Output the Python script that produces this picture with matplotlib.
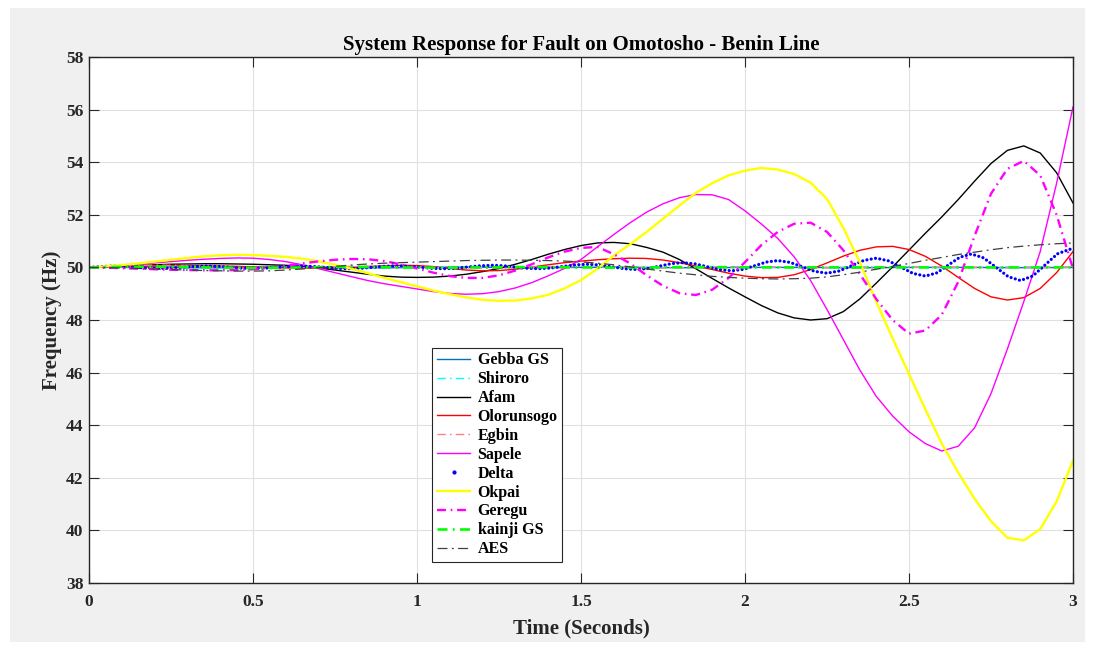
import numpy as np
import matplotlib
matplotlib.use("Agg")
import matplotlib.pyplot as plt
from matplotlib.lines import Line2D
from matplotlib.patches import Rectangle

# ---------------- data ----------------
t = np.linspace(0, 3, 61)          # 0.05 s samples
t10 = np.linspace(0, 3, 31)        # 0.1 s samples

gebba = [50.00, 50.03, 50.02, 49.99, 49.98, 50.00, 50.02, 50.01, 49.99, 49.98, 50.00,
         50.01, 50.01, 49.99, 49.99, 50.00, 50.01, 50.00, 49.99, 49.99, 50.00,
         50.00, 50.00, 49.99, 49.99, 50.00, 50.00, 50.00, 49.99, 49.99, 50.00]
shiroro = [50.00, 50.10, 50.06, 49.97, 49.96, 50.02, 50.04, 50.00, 49.97, 50.00, 50.03,
           50.02, 49.99, 49.98, 50.01, 50.03, 50.01, 49.98, 49.99, 50.02, 50.02,
           49.99, 49.98, 50.01, 50.03, 50.01, 49.98, 49.99, 50.02, 50.02, 50.00]
egbin = [50.00, 50.05, 50.09, 50.07, 50.02, 49.98, 49.97, 50.00, 50.04, 50.05, 50.02,
         49.98, 49.97, 50.00, 50.03, 50.04, 50.01, 49.98, 49.98, 50.01, 50.03,
         50.02, 49.99, 49.98, 50.00, 50.02, 50.02, 50.00, 49.99, 50.00, 50.01]
kainji = [50.00, 50.02, 50.03, 50.01, 49.99, 49.98, 49.99, 50.01, 50.02, 50.01, 49.99,
          49.99, 50.00, 50.01, 50.01, 50.00, 49.99, 50.00, 50.01, 50.01, 50.00,
          50.00, 50.00, 50.00, 50.00, 50.00, 50.00, 50.00, 50.00, 50.00, 50.00]

afam = [50.00, 50.02, 50.05, 50.08, 50.10, 50.12, 50.13, 50.14, 50.14, 50.13,
        50.12, 50.10, 50.08, 50.04, 49.98, 49.90, 49.82, 49.74, 49.67, 49.63,
        49.62, 49.63, 49.67, 49.74, 49.84, 49.96, 50.12, 50.30, 50.50, 50.68,
        50.83, 50.93, 50.95, 50.90, 50.76, 50.58, 50.30, 49.95, 49.58, 49.22,
        48.88, 48.55, 48.27, 48.08, 48.00, 48.05, 48.32, 48.80, 49.40, 50.02,
        50.66, 51.30, 51.92, 52.58, 53.28, 53.95, 54.45, 54.62, 54.35, 53.60,
        52.45]
olorunsogo = [50.00, 50.01, 50.03, 50.04, 50.05, 50.06, 50.06, 50.06, 50.05, 50.04,
              50.02, 50.00, 49.98, 49.97, 49.97, 49.98, 50.00, 50.03, 50.06, 50.08,
              50.07, 50.03, 49.96, 49.90, 49.87, 49.88, 49.93, 50.01, 50.10, 50.18,
              50.24, 50.29, 50.33, 50.35, 50.34, 50.28, 50.18, 50.05, 49.92, 49.78,
              49.67, 49.61, 49.62, 49.72, 49.92, 50.17, 50.43, 50.65, 50.78, 50.80,
              50.68, 50.42, 50.05, 49.62, 49.20, 48.88, 48.76, 48.85, 49.20, 49.80,
              50.60]
sapele = [50.00, 50.03, 50.07, 50.12, 50.17, 50.22, 50.27, 50.31, 50.34, 50.36,
          50.35, 50.30, 50.22, 50.10, 49.95, 49.80, 49.65, 49.50, 49.38, 49.28,
          49.18, 49.08, 49.01, 48.98, 49.00, 49.08, 49.22, 49.42, 49.68, 49.96,
          50.30, 50.78, 51.25, 51.70, 52.10, 52.42, 52.65, 52.77, 52.76, 52.58,
          52.15, 51.65, 51.10, 50.40, 49.50, 48.40, 47.25, 46.10, 45.10, 44.35,
          43.75, 43.30, 43.02, 43.20, 43.90, 45.20, 46.90, 48.70, 50.60, 53.20,
          56.10]
okpai = [50.00, 50.04, 50.09, 50.15, 50.22, 50.29, 50.36, 50.42, 50.46, 50.48,
         50.47, 50.44, 50.40, 50.33, 50.23, 50.10, 49.95, 49.78, 49.60, 49.44,
         49.28, 49.12, 48.98, 48.86, 48.77, 48.73, 48.74, 48.82, 48.96, 49.20,
         49.52, 49.95, 50.45, 50.88, 51.35, 51.85, 52.35, 52.83, 53.20, 53.50,
         53.68, 53.78, 53.72, 53.55, 53.22, 52.60, 51.50, 50.20, 48.70, 47.30,
         45.95, 44.60, 43.30, 42.20, 41.20, 40.35, 39.72, 39.62, 40.05, 41.10,
         42.65]
geregu = [50.00, 49.99, 49.97, 49.95, 49.93, 49.91, 49.90, 49.89, 49.89, 49.90,
          49.93, 49.98, 50.06, 50.15, 50.23, 50.29, 50.32, 50.31, 50.24, 50.12,
          49.96, 49.80, 49.67, 49.60, 49.60, 49.70, 49.88, 50.12, 50.38, 50.60,
          50.74, 50.78, 50.50, 50.15, 49.70, 49.30, 49.02, 48.95, 49.15, 49.60,
          50.20, 50.85, 51.35, 51.66, 51.70, 51.35, 50.65, 49.75, 48.80, 48.00,
          47.48, 47.60, 48.20, 49.45, 51.20, 52.80, 53.75, 54.05, 53.50, 52.00,
          49.95]
aes = [50.00, 49.99, 49.98, 49.96, 49.94, 49.92, 49.90, 49.88, 49.87, 49.86,
       49.86, 49.87, 49.90, 49.94, 49.99, 50.04, 50.09, 50.13, 50.16, 50.18,
       50.20, 50.22, 50.24, 50.26, 50.27, 50.28, 50.28, 50.27, 50.26, 50.24,
       50.21, 50.16, 50.10, 50.02, 49.94, 49.86, 49.78, 49.72, 49.66, 49.62,
       49.59, 49.57, 49.56, 49.57, 49.59, 49.64, 49.72, 49.82, 49.93, 50.04,
       50.15, 50.27, 50.38, 50.49, 50.58, 50.67, 50.75, 50.81, 50.86, 50.90,
       50.93]

delta_t = [0.00, 0.035, 0.07, 0.105, 0.14, 0.175, 0.21, 0.2475, 0.285, 0.3225,
           0.36, 0.395, 0.43, 0.465, 0.50, 0.5375, 0.575, 0.6125,
           0.65, 0.685, 0.72, 0.755, 0.79, 0.8275, 0.865, 0.9025,
           0.94, 0.975, 1.01, 1.045, 1.08, 1.1175, 1.155, 1.1925,
           1.23, 1.265, 1.30, 1.335, 1.37, 1.4075, 1.445, 1.4825,
           1.52, 1.5575, 1.595, 1.6325, 1.67, 1.705, 1.74, 1.775,
           1.81, 1.8475, 1.885, 1.9225, 1.96, 1.995, 2.03, 2.065,
           2.10, 2.1375, 2.175, 2.2125, 2.25, 2.2875, 2.325, 2.3625,
           2.40, 2.4375, 2.475, 2.5125, 2.55, 2.585, 2.62, 2.655,
           2.69, 2.7275, 2.765, 2.8025, 2.84, 2.8775, 2.915, 2.9525,
           2.99, 3.00]
delta = [50.00, 50.03, 50.05, 50.037, 50.005, 49.973, 49.96, 49.973, 50.005, 50.037,
         50.05, 50.037, 50.005, 49.973, 49.96, 49.973, 50.005, 50.037,
         50.05, 50.035, 50.00, 49.965, 49.95, 49.966, 50.005, 50.044,
         50.06, 50.044, 50.005, 49.966, 49.95, 49.969, 50.015, 50.061,
         50.08, 50.061, 50.015, 49.969, 49.95, 49.975, 50.035, 50.095,
         50.12, 50.091, 50.02, 49.949, 49.92, 49.958, 50.05, 50.142,
         50.18, 50.135, 50.025, 49.915, 49.87, 49.927, 50.065, 50.203,
         50.26, 50.19, 50.02, 49.85, 49.78, 49.864, 50.065, 50.267,
         50.35, 50.25, 50.01, 49.77, 49.67, 49.793, 50.09, 50.387,
         50.51, 50.362, 50.005, 49.648, 49.50, 49.674, 50.095, 50.516,
         50.69, 50.68]

labels = ["Gebba GS", "Shiroro", "Afam", "Olorunsogo", "Egbin", "Sapele",
          "Delta", "Okpai", "Geregu", "kainji GS", "AES"]
x_ticks = [0, 0.5, 1, 1.5, 2, 2.5, 3]
x_tick_labels = ["0", "0.5", "1", "1.5", "2", "2.5", "3"]
y_ticks = [38, 40, 42, 44, 46, 48, 50, 52, 54, 56, 58]

# ---------------- figure ----------------
plt.rcParams['font.family'] = ['Liberation Serif', 'DejaVu Serif']
plt.rcParams['font.weight'] = 'bold'

fig = plt.figure(figsize=(11.03, 6.49), dpi=100, facecolor='white')
fig.patches.append(Rectangle((10 / 1103, 1 - 642 / 649), 1075 / 1103, 634 / 649,
                             transform=fig.transFigure, facecolor='#f0f0f0',
                             edgecolor='none', zorder=-10))
ax = fig.add_axes([89 / 1103, 1 - 583 / 649, 984 / 1103, 526 / 649])
ax.set_facecolor('white')

dd = (0, (6, 3, 1.2, 3))
ax.plot(t10, gebba, color='#0072BD', lw=1.0, label=labels[0])
ax.plot(t10, shiroro, color='#00FFFF', lw=1.0, linestyle=dd, label=labels[1])
ax.plot(t, afam, color='black', lw=1.0, label=labels[2])
ax.plot(t, olorunsogo, color='#FF0000', lw=1.0, label=labels[3])
ax.plot(t10, egbin, color='#FF8080', lw=1.0, linestyle=dd, label=labels[4])
ax.plot(t, sapele, color='#FF00FF', lw=1.0, label=labels[5])
ax.plot(delta_t, delta, color='#0000FF', lw=2.3, linestyle=(0, (0.01, 1.35)),
        dash_capstyle='round', label=labels[6])
ax.plot(t, okpai, color='#FFFF00', lw=1.7, label=labels[7])
ax.plot(t, geregu, color='#FF00FF', lw=1.7, linestyle=(0, (3.8, 2.0, 0.7, 2.0)), label=labels[8])
ax.plot(t10, kainji, color='#00FF00', lw=1.9, linestyle=(0, (3.8, 2.0, 0.7, 2.0)), label=labels[9])
ax.plot(t, aes, color='#404040', lw=0.9, linestyle=(0, (8, 3.5, 1.5, 3.5)), label=labels[10])

ax.set_xlim(0, 3)
ax.set_ylim(38, 58)
ax.set_xticks(x_ticks)
ax.set_xticklabels(x_tick_labels)
ax.set_yticks(y_ticks)
ax.grid(True, color='#e0e0e0', lw=0.8)
ax.set_axisbelow(True)
ax.tick_params(direction='in', length=7, width=0.8, top=True, right=True,
               labelsize=12.5, colors='#262626')
ax.tick_params(axis='x', pad=8)
ax.tick_params(axis='y', pad=4)
for lab in ax.get_xticklabels() + ax.get_yticklabels():
    lab.set_fontweight('bold')
for s in ax.spines.values():
    s.set_color('#262626')
    s.set_linewidth(1.0)

ax.set_title("System Response for Fault on Omotosho - Benin Line",
             fontsize=15, fontweight='bold', pad=5, color='black')
ax.set_xlabel("Time (Seconds)", fontsize=15, fontweight='bold', labelpad=6, color='#262626')
ax.set_ylabel("Frequency (Hz)", fontsize=15, fontweight='bold', labelpad=3, color='#262626')

handles, labs = ax.get_legend_handles_labels()
handles[6] = Line2D([], [], color='#0000FF', marker='.', markersize=4, linestyle='none')
leg = ax.legend(handles, labs, loc='lower left', bbox_to_anchor=(0.3486, 0.040),
                borderaxespad=0, fontsize=11.5, labelspacing=0.18, handlelength=2.1,
                handletextpad=0.45, borderpad=0.3, frameon=True, fancybox=False,
                edgecolor='#262626', framealpha=1.0)
leg.get_frame().set_linewidth(0.8)
for txt in leg.get_texts():
    txt.set_fontweight('bold')

fig.savefig("out.png", dpi=100, facecolor=fig.get_facecolor())
